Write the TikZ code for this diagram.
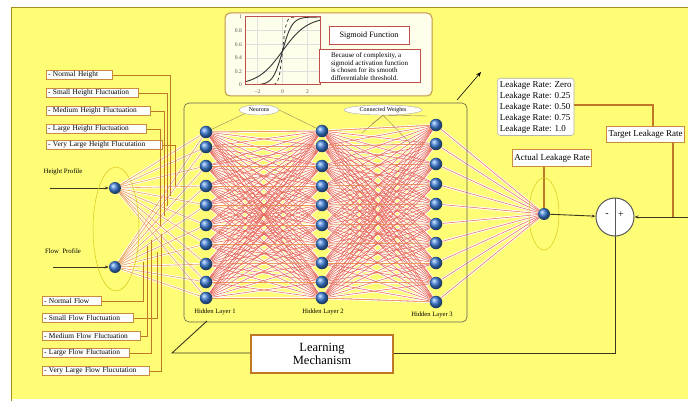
\documentclass[tikz,border=0pt]{standalone}
\usepackage{fontspec}
\setmainfont{Liberation Serif}
\usetikzlibrary{arrows.meta,shapes.geometric}
\pgfdeclarelayer{back}
\pgfdeclarelayer{wires}
\pgfsetlayers{back,wires,main}
\definecolor{bgyel}{RGB}{255,253,118}
\definecolor{boxbrd}{RGB}{200,140,60}
\definecolor{wire}{RGB}{236,158,88}
\definecolor{redwire}{RGB}{232,105,90}
\definecolor{darkline}{RGB}{60,55,35}
\definecolor{brline}{RGB}{190,120,40}
\definecolor{nblue}{RGB}{60,125,215}
\definecolor{sigred}{RGB}{190,80,75}
\definecolor{panelbrd}{RGB}{190,150,70}
\begin{document}
\begin{tikzpicture}[x=1pt,y=-1pt,
  lbl/.style={draw=boxbrd,line width=0.9pt,fill=white,font=\fontsize{7.4}{8}\selectfont,inner xsep=1.6pt,inner ysep=1pt,anchor=west,text width=#1,align=left,minimum height=9.5pt},
  neuron/.style={circle,shading=ball,ball color=nblue,minimum size=12.5pt,inner sep=0pt},
  halo/.style={white,line width=2.4pt},
  owire/.style={wire,line width=0.6pt},
  rwire/.style={redwire,line width=0.55pt},
  bline/.style={brline,line width=1.1pt},
  dline/.style={darkline,line width=0.9pt},
  txt/.style={font=\fontsize{6.6}{7}\selectfont,inner sep=0pt},
  leak/.style={draw=boxbrd,line width=1pt,fill=white,font=\fontsize{9}{9}\selectfont,inner sep=2pt}
]
\useasboundingbox (0,0) rectangle (688,401);
\begin{pgfonlayer}{back}
\fill[white] (0,0) rectangle (688,401);
\fill[bgyel] (11,8) rectangle (688,399);
\draw[olive!60!brown,line width=1pt] (11,401) -- (11,8) -- (688,8);
\end{pgfonlayer}

% ---------- neurons ----------
\node[neuron,minimum size=12pt] (in1) at (115,188) {};
\node[neuron,minimum size=12pt] (in2) at (115,267) {};
\foreach \y [count=\i] in {132,147,166,186,205,225,244,264,282,298}
  \node[neuron] (a\i) at (206,\y) {};
\foreach \y [count=\i] in {131,146,166,186,205,225,244,263,282,298}
  \node[neuron] (b\i) at (322,\y) {};
\foreach \y [count=\i] in {125,144,164,184,204,224,243,263,283,302}
  \node[neuron] (c\i) at (436,\y) {};
\node[neuron,minimum size=12pt] (out) at (544,214) {};

% ---------- wires ----------
\begin{pgfonlayer}{wires}
\foreach \i in {1,...,10}{
  \draw[halo] (in1) -- (a\i); \draw[halo] (in2) -- (a\i);
  \draw[halo] (c\i) -- (out);
  \foreach \j in {1,...,10}{
    \draw[halo] (a\i) -- (b\j);
    \draw[halo] (b\i) -- (c\j);
  }
}
\foreach \i in {1,...,10}{
  \draw[owire] (in1) -- (a\i); \draw[owire] (in2) -- (a\i);
  \draw[rwire] (c\i) -- (out);
  \foreach \j in {1,...,10}{
    \draw[rwire] (a\i) -- (b\j);
    \draw[rwire] (b\i) -- (c\j);
  }
  \draw[owire] (a\i) -- (b\i);
  \draw[owire] (b\i) -- (c\i);
}
\end{pgfonlayer}

% ---------- hidden frame ----------
\node[draw=darkline!80,line width=0.6pt,rounded corners=5pt,minimum width=283pt,minimum height=219pt,inner sep=0pt] (frame) at (325.5,212.5) {};
\node[ellipse,draw=gray!70,fill=white,minimum width=40pt,minimum height=10pt,inner sep=0pt,font=\fontsize{6}{6}\selectfont] (neur) at (259,110) {Neurons};
\node[ellipse,draw=gray!70,fill=white,minimum width=78pt,minimum height=10pt,inner sep=0pt,font=\fontsize{6}{6}\selectfont] (cw) at (383,110) {Connected Weights};
\draw[gray!60!brown,line width=0.4pt] (neur.south west) -- (a1);
\draw[gray!60!brown,line width=0.4pt] (neur.east) -- (b1);
\coordinate (w1) at (362,133);
\coordinate (w2) at (372,124);
\coordinate (w3) at (410,143);
\coordinate (w4) at (427,116);
\foreach \w in {w1,w2,w3,w4} \draw[gray!50!brown,line width=0.4pt] (cw.south) -- (\w);
\node[txt] (hl1) at (215,312) {Hidden Layer 1};
\node[txt] (hl2) at (323,312) {Hidden Layer 2};
\node[txt] (hl3) at (432,315) {Hidden Layer 3};

% ---------- input labels ----------
\node[txt,font=\fontsize{6.8}{7}\selectfont] (hp) at (63,172) {Height Profile};
\node[txt,font=\fontsize{6.8}{7}\selectfont] (fp) at (63,251) {Flow\ \ Profile};
\coordinate (hpin) at (50,188);
\coordinate (fpin) at (53,267);
\draw[darkline,line width=0.6pt,-{Stealth[length=4pt,width=3pt]}] (hpin) -- (in1);
\draw[darkline,line width=0.6pt,-{Stealth[length=4pt,width=3pt]}] (fpin) -- (in2);
\node[ellipse,draw=olive!30!yellow!80!brown,line width=0.5pt,minimum width=46pt,minimum height=124pt] (inell) at (116,229) {};

% ---------- height boxes ----------
\node[lbl=62.8pt] (h1) at (46,75) {- Normal Height};
\node[lbl=88.8pt] (h2) at (46,93) {- Small Height Fluctuation};
\node[lbl=100.8pt] (h3) at (46,111) {- Medium Height Fluctuation};
\node[lbl=96.8pt] (h4) at (46,129) {- Large Height Fluctuation};
\node[lbl=112.8pt] (h5) at (46,145) {- Very Large Height Flucutation};
\coordinate (h1e) at (170,196);
\coordinate (h2e) at (167,206);
\coordinate (h3e) at (164,216);
\coordinate (h4e) at (160,226);
\coordinate (h5e) at (175,186);
\foreach \k in {1,...,5} \draw[bline,line width=0.9pt] (h\k.east) -| (h\k e);

% ---------- flow boxes ----------
\node[lbl=55.8pt] (f1) at (42,301) {- Normal Flow};
\node[lbl=87.8pt] (f2) at (42,318) {- Small Flow Fluctuation};
\node[lbl=94.8pt] (f3) at (42,336) {- Medium Flow Fluctuation};
\node[lbl=83.8pt] (f4) at (42,353) {- Large Flow Fluctuation};
\node[lbl=103.8pt] (f5) at (42,371) {- Very Large Flow Flucutation};
\coordinate (f1e) at (143,262);
\coordinate (f2e) at (157,252);
\coordinate (f3e) at (147,246);
\coordinate (f4e) at (151,240);
\coordinate (f5e) at (161,234);
\foreach \k in {1,...,5} \draw[bline,line width=0.9pt] (f\k.east) -| (f\k e);

% ---------- sigmoid panel ----------
\node[draw=panelbrd,line width=1pt,fill=white!92!yellow,rounded corners=5pt,minimum width=207pt,minimum height=83pt,inner sep=0pt] (panel) at (328.5,54.5) {};
\begin{scope}
\foreach \t in {-2,0,2} \draw[gray!25,line width=0.4pt] ({282.5+12.5*\t},17) -- ({282.5+12.5*\t},85);
\foreach \s in {0.2,0.4,0.6,0.8} \draw[gray!25,line width=0.4pt] (245,{85-68*\s}) -- (320,{85-68*\s});
\clip (245,17) rectangle (320,85);
\draw[gray!40!black,line width=0.9pt] plot[domain=-3:3,samples=60] ({282.5+12.5*\x},{85-68/(1+exp(-\x))});
\draw[gray!40!black,line width=0.9pt] plot[domain=-3:3,samples=80] ({282.5+12.5*\x},{85-68/(1+exp(-2.6*\x))});
\draw[gray!40!black,line width=0.8pt,dashed] plot[domain=-1.2:1.2,samples=60] ({282.5+12.5*\x},{85-68/(1+exp(-7*\x))});
\end{scope}
\node[draw=sigred,line width=1pt,minimum width=75pt,minimum height=68pt,inner sep=0pt] (plotbox) at (282.5,51) {};
\foreach \s/\l in {0/0,0.2/0.2,0.4/0.4,0.6/0.6,0.8/0.8,1/1}
  \node[txt,font=\fontsize{5.6}{5}\selectfont,text=gray!70!black,anchor=east] (yt\l) at (242,{85-68*\s}) {\l};
\foreach \t/\l in {-2/−2,0/0,2/2}
  \node[txt,font=\fontsize{5.6}{5}\selectfont,text=gray!70!black] (xt\t) at ({282.5+12.5*\t},92) {\l};
\node[draw=sigred,line width=1pt,fill=white,minimum width=80pt,minimum height=18pt,inner sep=0pt,font=\fontsize{8.2}{8}\selectfont] (sigf) at (369,36) {Sigmoid Function};
\node[draw=sigred,line width=1pt,fill=white,minimum width=101pt,minimum height=33pt,align=left,inner sep=1.5pt,font=\fontsize{7}{7.8}\selectfont] (sigtxt) at (369.5,66.5) {Because of complexity, a\\sigmoid activation function\\is chosen for its smooth\\differentiable threshold.};

% ---------- output side ----------
\coordinate (arrs) at (457,100);
\coordinate (arre) at (481,72);
\draw[black,line width=0.6pt,-{Stealth[length=5pt,width=4pt]}] (arrs) -- (arre);
\node[draw=gray!60,line width=0.6pt,fill=white,rounded corners=3pt,align=left,inner sep=2.5pt,font=\fontsize{9}{11}\selectfont,anchor=north west] (leakbox) at (497,78) {Leakage Rate: Zero\\Leakage Rate: 0.25\\Leakage Rate: 0.50\\Leakage Rate: 0.75\\Leakage Rate: 1.0};
\begin{scope}
\clip (0,0) rectangle (688,401);
\node[leak,anchor=north west,minimum height=16pt] (target) at (606,126) {Target Leakage Rate};
\end{scope}
\coordinate (lk050) at (0,105);
\coordinate (tgttop) at (653,126);
\draw[bline] (leakbox.east |- lk050) -| (tgttop);
\node[leak,minimum height=16pt] (actual) at (552,158) {Actual Leakage Rate};
\draw[bline] (actual.south -| out) -- (out);
\node[ellipse,draw=olive!30!yellow!80!brown,line width=0.5pt,minimum width=30pt,minimum height=72pt] (outell) at (544,214) {};
\node[circle,draw=gray!70!black,line width=1pt,fill=white,minimum size=38pt,inner sep=0pt] (sum) at (615,217) {};
\draw[gray!70!black,line width=1pt] (sum.north) -- (sum.south);
\node[txt,font=\fontsize{10}{10}\selectfont] (minus) at (607,215) {-};
\node[txt,font=\fontsize{10}{10}\selectfont] (plus) at (621,215) {+};
\draw[dline,-{Stealth[length=4pt,width=3pt]}] (out) -- (sum);
\coordinate (redge) at (690,217);
\draw[dline,-{Stealth[length=4pt,width=3pt]}] (redge) -- (sum);
\coordinate (tgtdown) at (673,217);
\draw[bline] (target.south -| tgtdown) -- (tgtdown);

% ---------- learning mechanism ----------
\node[draw=brline,line width=1.2pt,fill=white,minimum width=142pt,minimum height=38pt,align=center,font=\fontsize{12.5}{13.5}\selectfont,inner sep=0pt] (lm) at (322,354) {Learning\\Mechanism};
\coordinate (lmc) at (615,353);
\coordinate (lml) at (172,353);
\coordinate (lmf) at (207,321);
\draw[dline] (sum.south) -- (lmc) -- (lm.east |- lmc);
\draw[dline] (lm.west |- lml) -- (lml) -- (lmf);
\end{tikzpicture}
\end{document}
